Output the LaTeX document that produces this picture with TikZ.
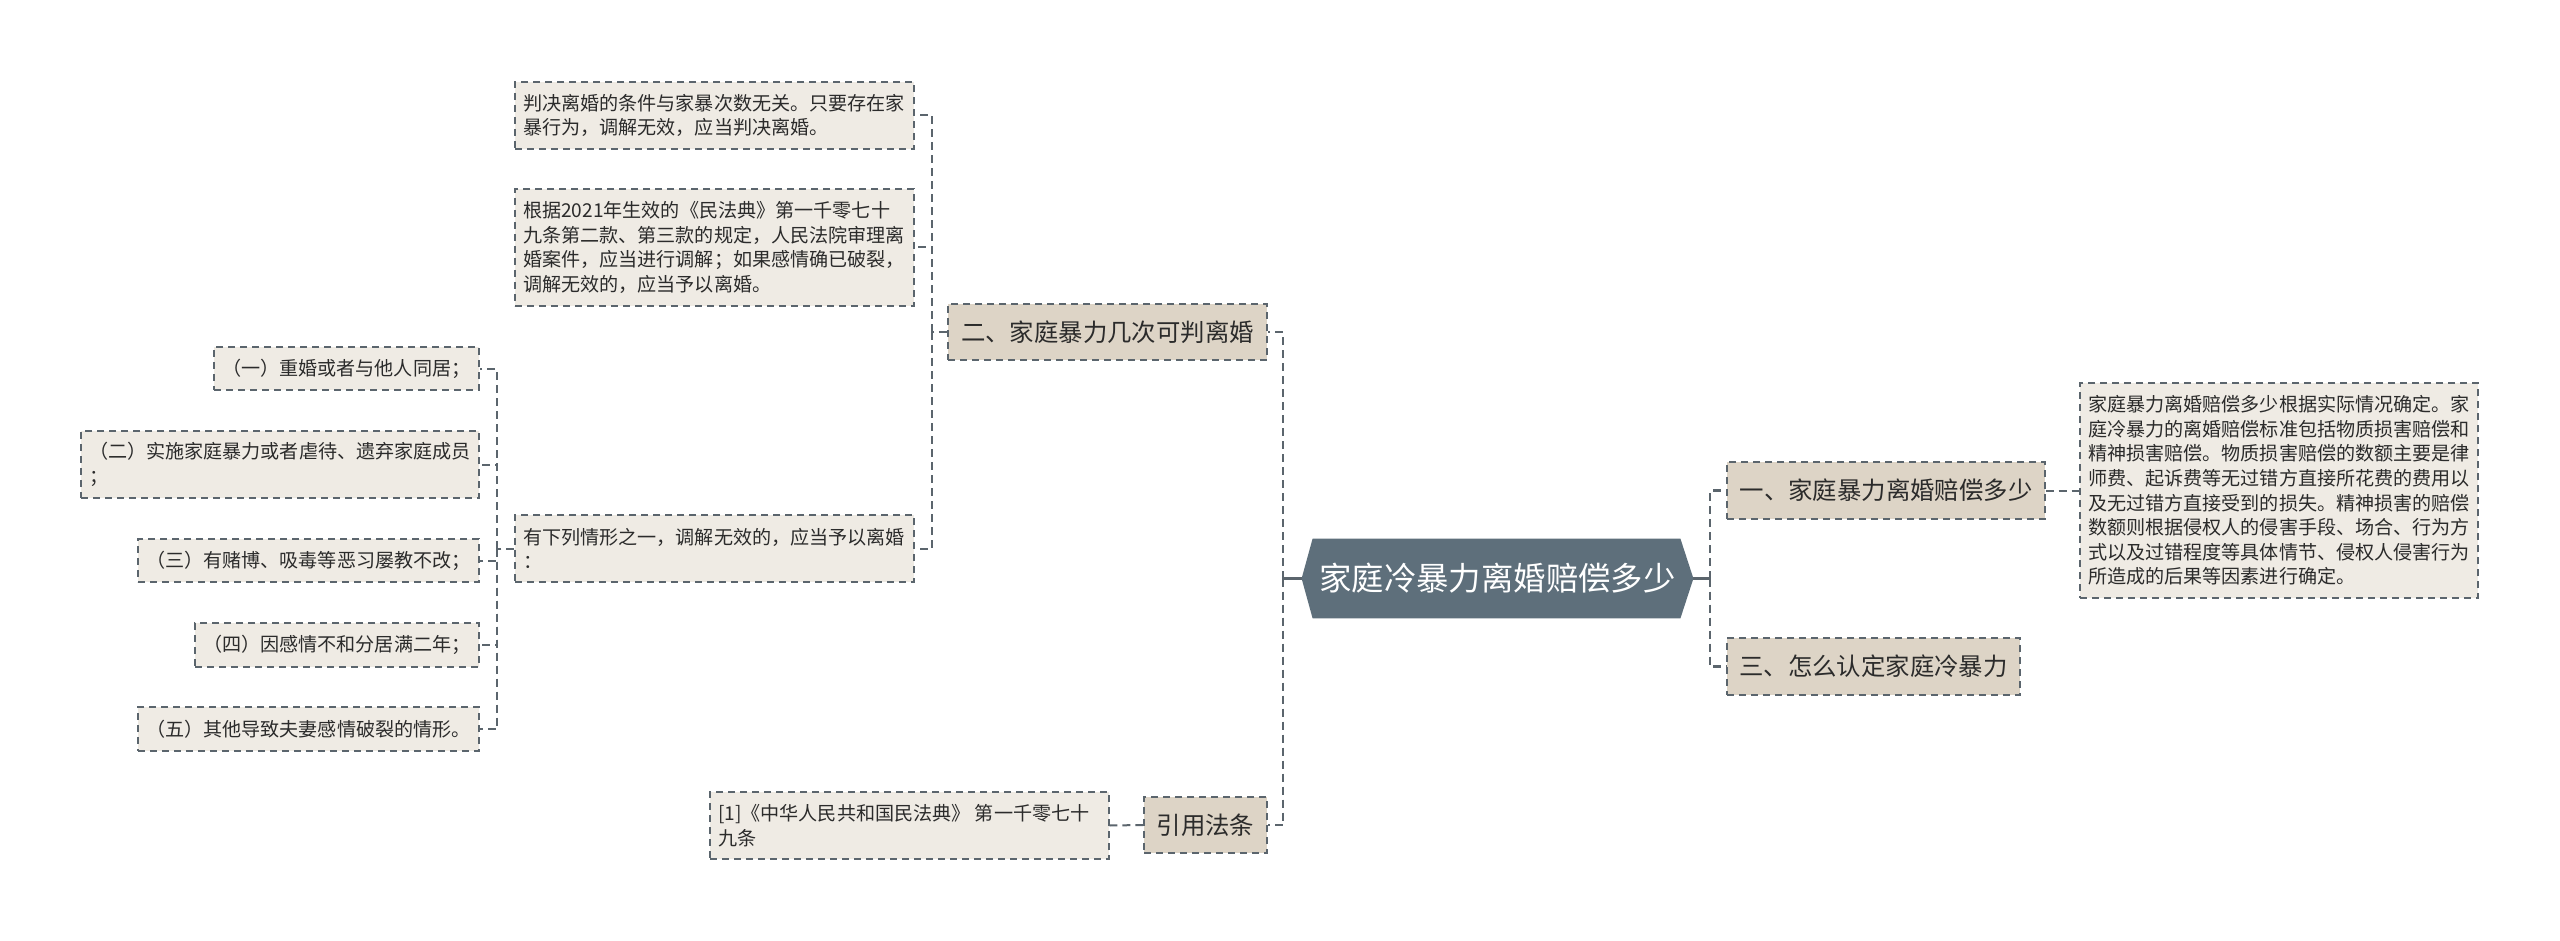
\documentclass[tikz,border=0pt]{standalone}
\usepackage{fontspec}
\setmainfont{Noto Sans CJK SC}
\usetikzlibrary{backgrounds}
\definecolor{lnc}{HTML}{5B656D}
\definecolor{smf}{HTML}{EFEBE4}
\definecolor{lvf}{HTML}{DDD4C6}
\definecolor{rootf}{HTML}{5E6F7B}
\definecolor{txt}{HTML}{2B2B2B}
\newcommand\bx[7]{\node[#6, minimum width={(#4-#2)*0.5pt}, minimum height={(#5-#3)*0.5pt}] (#1) at ({(#2+#4)/2},{(#3+#5)/2}) {#7};}
\newcommand\sbx[6]{\bx{#1}{#2}{#3}{#4}{#5}{smallbox}{\parbox{\dimexpr(#4pt-#2pt-16pt)/2\relax}{\raggedright #6}}}
\begin{document}
\begin{tikzpicture}[x=0.5pt,y=-0.5pt,
 smallbox/.style={draw=lnc, line width=0.7pt, dash pattern=on 3.5pt off 2.5pt, fill=smf, inner sep=0pt, text=txt, font=\fontsize{9.55pt}{12.3pt}\selectfont},
 lvbox/.style={draw=lnc, line width=0.7pt, dash pattern=on 3.5pt off 2.5pt, fill=lvf, inner sep=0pt, text=txt, font=\fontsize{12.2pt}{14pt}\selectfont},
 conn/.style={draw=lnc, line width=1pt, dash pattern=on 4pt off 2.5pt},
 conn1/.style={draw=lnc, line width=1.3pt, dash pattern=on 4pt off 2.5pt},
 solidc/.style={draw=lnc, line width=1.5pt},
]
\useasboundingbox (0,0) rectangle (2560,941);

% root
\node[inner sep=0pt, minimum width=195.5pt, minimum height=39.5pt, text=white, font=\fontsize{16.2pt}{18pt}\selectfont] (root) at (1497.5,578.5) {家庭冷暴力离婚赔偿多少};
\begin{scope}[on background layer]
\fill[white] (0,0) rectangle (2560,941);
\fill[rootf] (root.west) -- ([xshift=5.5pt]root.north west) -- ([xshift=-6.5pt]root.north east) -- (root.east) -- ([xshift=-6.5pt]root.south east) -- ([xshift=5.5pt]root.south west) -- cycle;
\end{scope}

% level 1
\bx{n2}{948}{304}{1267}{360}{lvbox}{二、家庭暴力几次可判离婚}
\bx{cite}{1144}{797}{1267}{853}{lvbox}{引用法条}
\bx{n1}{1727}{462}{2045}{519}{lvbox}{一、家庭暴力离婚赔偿多少}
\bx{n3}{1727}{638}{2020}{695}{lvbox}{三、怎么认定家庭冷暴力}

% small boxes
\sbx{A}{515}{82}{914}{149}{判决离婚的条件与家暴次数无关。只要存在家\\暴行为，调解无效，应当判决离婚。}
\sbx{B}{515}{189}{914}{306}{根据2021年生效的《民法典》第一千零七十\\九条第二款、第三款的规定，人民法院审理离\\婚案件，应当进行调解；如果感情确已破裂，\\调解无效的，应当予以离婚。}
\sbx{C}{515}{515}{914}{582}{有下列情形之一，调解无效的，应当予以离婚\\：}
\sbx{i1}{214}{347}{479}{390}{（一）重婚或者与他人同居；}
\sbx{i2}{81}{431}{479}{498}{（二）实施家庭暴力或者虐待、遗弃家庭成员\\；}
\sbx{i3}{138}{539}{479}{582}{（三）有赌博、吸毒等恶习屡教不改；}
\sbx{i4}{195}{623}{479}{667}{（四）因感情不和分居满二年；}
\sbx{i5}{138}{707}{479}{751}{（五）其他导致夫妻感情破裂的情形。}
\sbx{ref}{710}{792}{1109}{859}{[1]《中华人民共和国民法典》~第一千零七十\\九条}
\sbx{rt}{2080}{383}{2478}{598}{家庭暴力离婚赔偿多少根据实际情况确定。家\\庭冷暴力的离婚赔偿标准包括物质损害赔偿和\\精神损害赔偿。物质损害赔偿的数额主要是律\\师费、起诉费等无过错方直接所花费的费用以\\及无过错方直接受到的损失。精神损害的赔偿\\数额则根据侵权人的侵害手段、场合、行为方\\式以及过错程度等具体情节、侵权人侵害行为\\所造成的后果等因素进行确定。}

% junctions
\coordinate (jL) at (1283,578.5);
\coordinate (jR) at (1710,578.5);
\coordinate (j2) at (932,332);
\coordinate (jC) at (497,548.5);

% connectors
\draw[solidc] (root.west) -- (jL);
\draw[solidc] (root.east) -- (jR);
\draw[conn1] (jL) |- (n2.east);
\draw[conn1] (jL) |- (cite.east);
\draw[conn1] (jR) |- (n1.west);
\draw[conn1] (jR) |- (n3.west);
\draw[conn] (n2.west) -- (j2);
\draw[conn] (j2) |- (A.east);
\draw[conn] (j2) |- (B.east);
\draw[conn] (j2) |- (C.east);
\draw[conn] (C.west) -- (jC);
\draw[conn] (jC) |- (i1.east);
\draw[conn] (jC) |- (i2.east);
\draw[conn] (jC) |- (i3.east);
\draw[conn] (jC) |- (i4.east);
\draw[conn] (jC) |- (i5.east);
\draw[conn] (cite.west) -- (ref.east);
\draw[conn] (n1.east) -- (rt.west);
\end{tikzpicture}
\end{document}
